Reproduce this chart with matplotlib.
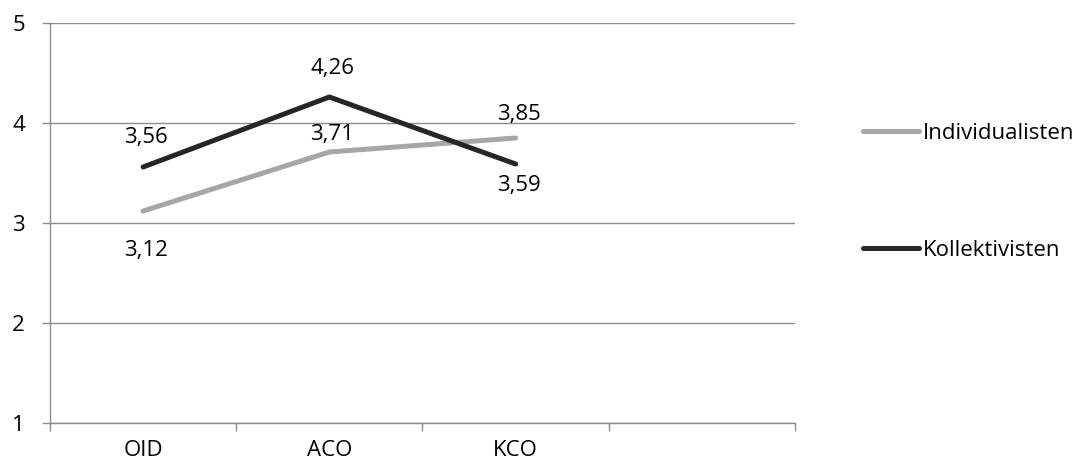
import numpy as np
import matplotlib.pyplot as plt

plt.rcParams['font.family'] = ['Open Sans', 'DejaVu Sans']

categories = ['OID', 'ACO', 'KCO', '']
individualisten = [3.12, 3.71, 3.85]
kollektivisten = [3.56, 4.26, 3.59]
# vertical label offsets in pixels (positive = above the point)
ind_offset = [-37, 20, 26]
kol_offset = [32, 31, -19]

grid_col = '#8c8c8c'
fs = 16

fig = plt.figure(figsize=(10.89, 4.70), dpi=100)
ax = fig.add_axes([50 / 1089, 47 / 470, 745 / 1089, 400 / 470])

x = np.arange(len(individualisten))
l1, = ax.plot(x, individualisten, color='#a6a6a6', lw=3.6,
              solid_capstyle='round', label='Individualisten', zorder=3)
l2, = ax.plot(x, kollektivisten, color='#262626', lw=3.6,
              solid_capstyle='round', label='Kollektivisten', zorder=4)

for vals, offs in [(individualisten, ind_offset), (kollektivisten, kol_offset)]:
    for xi, v, o in zip(x, vals, offs):
        txt = f'{v:.2f}'.replace('.', ',')
        ax.annotate(txt, (xi, v), xytext=(3, o), textcoords='offset pixels',
                    ha='center', va='center_baseline', fontsize=fs, color='black')

ax.set_xlim(-0.5, len(categories) - 0.5)
ax.set_ylim(1, 5)
ax.set_yticks([1, 2, 3, 4, 5])
ax.set_xticks(np.arange(len(categories)))
ax.set_xticklabels(categories)
ax.set_xticks(np.arange(len(categories) + 1) - 0.5, minor=True)
ax.tick_params(axis='x', which='major', length=0, pad=12, labelsize=fs)
ax.tick_params(axis='x', which='minor', length=6, color=grid_col, width=1)
ax.tick_params(axis='y', length=6, color=grid_col, width=1, pad=12, labelsize=fs)

ax.grid(axis='y', color=grid_col, lw=1)
ax.set_axisbelow(True)
for side in ['top', 'right']:
    ax.spines[side].set_visible(False)
for side in ['left', 'bottom']:
    ax.spines[side].set_color(grid_col)
    ax.spines[side].set_linewidth(1)

fig.legend(handles=[l1, l2], loc='upper left', bbox_to_anchor=(863 / 1089, 1 - 123 / 470),
           frameon=False, fontsize=fs, handlelength=2.5, handletextpad=0.2,
           labelspacing=4.3, borderpad=0, borderaxespad=0)

fig.savefig('out.png', dpi=100)
